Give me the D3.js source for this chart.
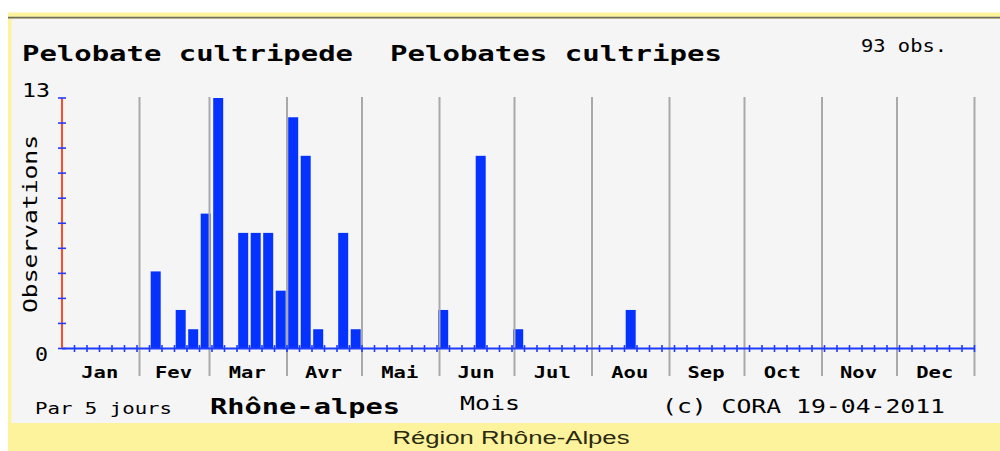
<!DOCTYPE html>
<html>
<head>
<meta charset="utf-8">
<script src="https://cdn.jsdelivr.net/npm/d3@7"></script>
<style>
  html, body { margin: 0; padding: 0; background: #ffffff; }
  svg { display: block; }
</style>
</head>
<body>
<div id="chart"></div>
<script>
// ---- data ----
const titleCommon = "Pelobate cultripede";
const titleLatin = "Pelobates cultripes";
const obsLabel = "93 obs.";
const monthLabels = ["Jan","Fev","Mar","Avr","Mai","Jun","Jul","Aou","Sep","Oct","Nov","Dec"];
const monthDays = [31,28,31,30,31,30,31,31,30,31,30,31];
const binDays = 5;
// observations per 5-day period (73 periods)
const counts = [
  0,0,0,0,0,0,0,4,0,2,
  1,7,13,0,6,6,6,3,12,10,
  1,0,6,1,0,0,0,0,0,0,
  2,0,0,10,0,0,1,0,0,0,
  0,0,0,0,0,2,0,0,0,0,
  0,0,0,0,0,0,0,0,0,0,
  0,0,0,0,0,0,0,0,0,0,
  0,0,0
];
const yMax = 13;
const yTickCount = 10;
const yAxisTitle = "Observations";
const xAxisTitle = "Mois";
const periodLabel = "Par 5 jours";
const regionLabel = "Rhône-alpes";
const creditLabel = "(c) CORA 19-04-2011";
const footerLabel = "Région Rhône-Alpes";

// ---- drawing ----
const W = 1000, H = 451;
const svg = d3.select("#chart").append("svg").attr("width", W).attr("height", H);

// frame
svg.append("rect").attr("x", 8).attr("y", 12.5).attr("width", W - 8).attr("height", H - 12.5).attr("fill", "#fdf39c");
svg.append("rect").attr("x", 11.5).attr("y", 18.5).attr("width", W - 11.5).attr("height", 404.5).attr("fill", "#f5f5f5");
svg.append("line").attr("x1", 8).attr("x2", W).attr("y1", 17.6).attr("y2", 17.6).attr("stroke", "#6e6e5e").attr("stroke-width", 1.8);

const totalDays = d3.sum(monthDays);
const x = d3.scaleLinear().domain([0, totalDays]).range([62, 974.5]);
const y = d3.scaleLinear().domain([0, yMax]).range([348.5, 98]);

const mono = "'DejaVu Sans Mono', 'Liberation Mono', monospace";

// title
svg.append("text").attr("x", 22).attr("y", 61).attr("font-family", mono).attr("font-weight", "bold")
  .attr("font-size", 22).attr("textLength", 331).attr("lengthAdjust", "spacingAndGlyphs").attr("fill", "#000").text(titleCommon);
svg.append("text").attr("x", 390).attr("y", 61).attr("font-family", mono).attr("font-weight", "bold")
  .attr("font-size", 22).attr("textLength", 332).attr("lengthAdjust", "spacingAndGlyphs").attr("fill", "#000").text(titleLatin);
svg.append("text").attr("x", 861).attr("y", 52).attr("font-family", mono)
  .attr("font-size", 17).attr("textLength", 86).attr("lengthAdjust", "spacingAndGlyphs").attr("fill", "#000").text(obsLabel);

// month boundaries
const cum = [];
monthDays.reduce((a, d) => { cum.push(a + d); return a + d; }, 0);
const starts = [0].concat(cum.slice(0, -1));

svg.append("g").selectAll("rect.bar").data(counts).join("rect")
  .attr("x", (d, i) => x(i * binDays) + 1.2)
  .attr("width", (d, i) => x((i + 1) * binDays) - x(i * binDays) - 2.5)
  .attr("y", d => y(d))
  .attr("height", d => y(0) - y(d))
  .attr("fill", "#0532ff")
  .attr("display", d => d > 0 ? null : "none");

svg.append("g").selectAll("line").data(cum).join("line")
  .attr("x1", d => x(d)).attr("x2", d => x(d))
  .attr("y1", 97).attr("y2", 376)
  .attr("stroke", "#a9a9a9").attr("stroke-width", 2);

// x axis line and 5-day ticks
svg.append("line").attr("x1", x(0)).attr("x2", x(totalDays)).attr("y1", y(0)).attr("y2", y(0))
  .attr("stroke", "#1f3dff").attr("stroke-width", 2);
svg.append("g").selectAll("line").data(d3.range(1, counts.length + 1)).join("line")
  .attr("x1", i => x(i * binDays)).attr("x2", i => x(i * binDays))
  .attr("y1", y(0) - 3.5).attr("y2", y(0) + 3.5)
  .attr("stroke", "#1f3dff").attr("stroke-width", 1.6);

// y axis
svg.append("line").attr("x1", x(0)).attr("x2", x(0)).attr("y1", y(yMax)).attr("y2", y(0))
  .attr("stroke", "#ff4a2a").attr("stroke-width", 2);
svg.append("g").selectAll("line").data(d3.range(0, yTickCount + 1).map(i => i * yMax / yTickCount)).join("line")
  .attr("x1", x(0) - 4).attr("x2", x(0) + 4)
  .attr("y1", d => y(d)).attr("y2", d => y(d))
  .attr("stroke", "#1f3dff").attr("stroke-width", 1.6);

svg.append("text").attr("x", 50).attr("y", 97).attr("text-anchor", "end").attr("font-family", mono)
  .attr("font-size", 20).attr("textLength", 28).attr("lengthAdjust", "spacingAndGlyphs").text(String(yMax));
svg.append("text").attr("x", 48).attr("y", 361).attr("text-anchor", "end").attr("font-family", mono)
  .attr("font-size", 20).attr("textLength", 13).attr("lengthAdjust", "spacingAndGlyphs").text("0");

svg.append("text").attr("transform", "translate(37,224) rotate(-90)").attr("text-anchor", "middle")
  .attr("font-family", mono).attr("font-size", 20).attr("textLength", 178).attr("lengthAdjust", "spacingAndGlyphs")
  .text(yAxisTitle);

// month labels
svg.append("g").selectAll("text").data(monthLabels).join("text")
  .attr("x", (d, i) => x(starts[i] + monthDays[i] / 2) - 1)
  .attr("y", 378)
  .attr("text-anchor", "middle")
  .attr("font-family", mono).attr("font-size", 15).attr("font-weight", "bold")
  .attr("textLength", 37).attr("lengthAdjust", "spacingAndGlyphs")
  .text(d => d);

// bottom texts
svg.append("text").attr("x", 35).attr("y", 414).attr("font-family", mono).attr("font-size", 15)
  .attr("textLength", 137).attr("lengthAdjust", "spacingAndGlyphs").text(periodLabel);
svg.append("text").attr("x", 210).attr("y", 414).attr("font-family", mono).attr("font-size", 22).attr("font-weight", "bold")
  .attr("textLength", 190).attr("lengthAdjust", "spacingAndGlyphs").text(regionLabel);
svg.append("text").attr("x", 460).attr("y", 410).attr("font-family", mono).attr("font-size", 20)
  .attr("textLength", 60).attr("lengthAdjust", "spacingAndGlyphs").text(xAxisTitle);
svg.append("text").attr("x", 662).attr("y", 413).attr("font-family", mono).attr("font-size", 20)
  .attr("textLength", 283).attr("lengthAdjust", "spacingAndGlyphs").text(creditLabel);

svg.append("text").attr("x", 511).attr("y", 444).attr("text-anchor", "middle")
  .attr("font-family", "'Liberation Sans', Arial, sans-serif").attr("font-size", 18).attr("fill", "#2a2a10")
  .attr("textLength", 237).attr("lengthAdjust", "spacingAndGlyphs").text(footerLabel);
</script>
</body>
</html>
